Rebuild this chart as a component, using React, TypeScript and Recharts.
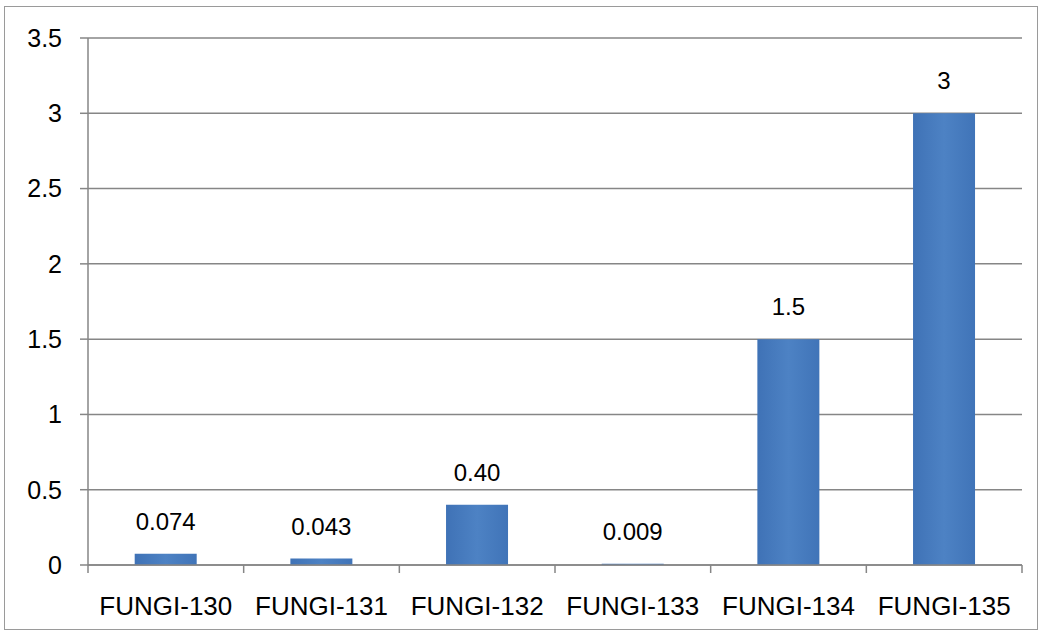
import React from "react";
import { BarChart, Bar, XAxis, YAxis, CartesianGrid, LabelList } from "recharts";

const categories = ["FUNGI-130", "FUNGI-131", "FUNGI-132", "FUNGI-133", "FUNGI-134", "FUNGI-135"];
const values = [0.074, 0.043, 0.4, 0.009, 1.5, 3];
const valueLabels = ["0.074", "0.043", "0.40", "0.009", "1.5", "3"];
const yTicks = [0, 0.5, 1, 1.5, 2, 2.5, 3, 3.5];

const data = categories.map((c, i) => ({ name: c, value: values[i], label: valueLabels[i] }));

const W = 1045;
const H = 637;
const MARGIN = { top: 38, right: 23, bottom: 0, left: 0 };
const YAXIS_W = 88;
const XAXIS_H = 72;
const plotW = W - MARGIN.left - MARGIN.right - YAXIS_W;
const band = plotW / categories.length;
const FONT = "'Liberation Sans', Arial, sans-serif";

const XTick = (props: any) => {
  const { x, y, payload, index } = props;
  const last = index === categories.length - 1;
  return (
    <g>
      <line x1={x - band / 2} x2={x - band / 2} y1={y - 8} y2={y} stroke="#868686" strokeWidth={1.5} />
      {last && <line x1={x + band / 2} x2={x + band / 2} y1={y - 8} y2={y} stroke="#868686" strokeWidth={1.5} />}
      <text x={x} y={y + 42} textAnchor="middle" fontSize={26} fill="#000" fontFamily={FONT}>
        {payload.value}
      </text>
    </g>
  );
};

export default function App() {
  return (
    <div style={{ position: "absolute", left: 0, top: 0, width: W, height: H, background: "#fff" }}>
      <div style={{ position: "absolute", left: 4, top: 6, width: 1034, height: 624, border: "1.5px solid #9a9a9a", boxSizing: "border-box" }} />
      <BarChart width={W} height={H} data={data} margin={MARGIN} barCategoryGap="30%">
        <defs>
          <linearGradient id="barGrad" x1="0" y1="0" x2="1" y2="0">
            <stop offset="0%" stopColor="#3f72b6" />
            <stop offset="50%" stopColor="#4d82c4" />
            <stop offset="100%" stopColor="#4074b8" />
          </linearGradient>
        </defs>
        <CartesianGrid vertical={false} stroke="#868686" strokeWidth={1.5} />
        <XAxis
          dataKey="name"
          height={XAXIS_H}
          stroke="#868686"
          strokeWidth={1.5}
          tickLine={false}
          tick={<XTick />}
          interval={0}
        />
        <YAxis
          width={YAXIS_W}
          domain={[0, 3.5]}
          ticks={yTicks}
          stroke="#868686"
          strokeWidth={1.5}
          tickSize={8}
          tickMargin={18}
          tick={{ fontSize: 25, fill: "#000", fontFamily: FONT }}
          interval={0}
        />
        <Bar dataKey="value" fill="url(#barGrad)" isAnimationActive={false}>
          <LabelList dataKey="label" position="top" offset={24} fontSize={24} fill="#000" fontFamily={FONT} />
        </Bar>
      </BarChart>
    </div>
  );
}
